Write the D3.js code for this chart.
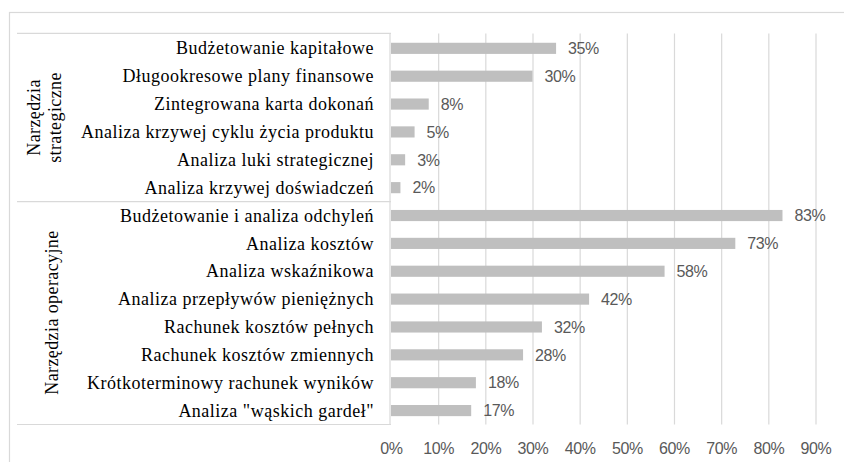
<!DOCTYPE html>
<html>
<head>
<meta charset="utf-8">
<script src="https://cdn.jsdelivr.net/npm/d3@7"></script>
<style>
  html, body { margin: 0; padding: 0; background: #fff; }
  svg { display: block; }
</style>
</head>
<body>
<svg id="chart" width="844" height="462"></svg>
<script>
const categories = [
  "Budżetowanie kapitałowe",
  "Długookresowe plany finansowe",
  "Zintegrowana karta dokonań",
  "Analiza krzywej cyklu życia produktu",
  "Analiza luki strategicznej",
  "Analiza krzywej doświadczeń",
  "Budżetowanie i analiza odchyleń",
  "Analiza kosztów",
  "Analiza wskaźnikowa",
  "Analiza przepływów pieniężnych",
  "Rachunek kosztów pełnych",
  "Rachunek kosztów zmiennych",
  "Krótkoterminowy rachunek wyników",
  "Analiza \"wąskich gardeł\""
];
const values = [0.35, 0.30, 0.08, 0.05, 0.03, 0.02, 0.83, 0.73, 0.58, 0.42, 0.32, 0.28, 0.18, 0.17];
const groups = [
  { lines: ["Narzędzia", "strategiczne"], first: 0, last: 5 },
  { lines: ["Narzędzia operacyjne"], first: 6, last: 13 }
];
const tickValues = [0, 0.1, 0.2, 0.3, 0.4, 0.5, 0.6, 0.7, 0.8, 0.9];

const svg = d3.select("#chart");
const gridColor = "#d9d9d9";
const serif = "'Liberation Serif', 'Times New Roman', serif";
const sans = "'Liberation Sans', Arial, sans-serif";

const x0 = 391, x1 = 815.5;
const yTop = 34.4, yBot = 424.5;
const boxLeft = 17;

const x = d3.scaleLinear().domain([0, 0.9]).range([x0, x1]);
const y = d3.scaleBand().domain(categories).range([yTop, yBot]).paddingInner(0.6).paddingOuter(0.3);

// outer chart border
svg.append("rect")
  .attr("x", 9.5).attr("y", 12.5)
  .attr("width", 900).attr("height", 500)
  .attr("fill", "none").attr("stroke", gridColor).attr("stroke-width", 1.2);

// gridlines
svg.append("g")
  .attr("transform", `translate(0,${yBot})`)
  .call(d3.axisBottom(x).tickValues(tickValues.slice(1)).tickSize(-(yBot - yTop + 1)).tickFormat(""))
  .call(g => g.select(".domain").remove())
  .call(g => g.selectAll("line").attr("stroke", gridColor).attr("stroke-width", 1.2));

// tick labels
svg.append("g")
  .attr("transform", `translate(0,${yBot + 15})`)
  .call(d3.axisBottom(x).tickValues(tickValues).tickSize(0).tickFormat(d3.format(".0%")))
  .call(g => g.select(".domain").remove())
  .call(g => g.selectAll("text")
    .attr("fill", "#595959")
    .style("font-family", sans)
    .style("font-size", "16px")
    .style("letter-spacing", "-0.4px"));

// category box lines
const boxLines = [yTop - 1, y.step() * 6 + yTop, yBot];
svg.append("g").selectAll("line").data(boxLines).join("line")
  .attr("x1", boxLeft).attr("x2", x0)
  .attr("y1", d => d).attr("y2", d => d)
  .attr("stroke", gridColor).attr("stroke-width", 1.2);
// axis line
svg.append("line")
  .attr("x1", x0 - 1).attr("x2", x0 - 1)
  .attr("y1", yTop - 1).attr("y2", yBot)
  .attr("stroke", gridColor).attr("stroke-width", 1.2);

// bars
svg.append("g").selectAll("rect").data(categories).join("rect")
  .attr("x", x(0))
  .attr("y", d => y(d))
  .attr("width", (d, i) => x(values[i]) - x(0))
  .attr("height", y.bandwidth())
  .attr("fill", "#bfbfbf");

// value labels
svg.append("g").selectAll("text").data(categories).join("text")
  .attr("x", (d, i) => x(values[i]) + 12)
  .attr("y", d => y(d) + y.bandwidth() / 2)
  .attr("dy", "0.36em")
  .attr("fill", "#595959")
  .style("font-family", sans)
  .style("font-size", "16px")
  .style("letter-spacing", "-0.4px")
  .text((d, i) => d3.format(".0%")(values[i]));

// category labels
svg.append("g").selectAll("text").data(categories).join("text")
  .attr("x", 374)
  .attr("y", d => y(d) + y.bandwidth() / 2)
  .attr("dy", "0.34em")
  .attr("text-anchor", "end")
  .attr("fill", "#000")
  .style("font-family", serif)
  .style("font-size", "18px")
  .style("letter-spacing", "0.5px")
  .text(d => d);

// group labels
groups.forEach(gr => {
  const top = y(categories[gr.first]) - y.step() * y.paddingInner() / 2 - 1;
  const bot = y(categories[gr.last]) + y.bandwidth() + y.step() * y.paddingInner() / 2;
  const cy = (top + bot) / 2;
  const n = gr.lines.length;
  const cx = n === 1 ? 52 : 44;
  const t = svg.append("text")
    .attr("transform", `translate(${cx},${cy}) rotate(-90)`)
    .attr("text-anchor", "middle")
    .attr("fill", "#000")
    .style("font-family", serif)
    .style("font-size", "18px")
    .style("letter-spacing", "0.4px");
  gr.lines.forEach((ln, i) => {
    t.append("tspan")
      .attr("x", 0)
      .attr("y", (i - (n - 1) / 2) * 21)
      .attr("dy", "0.34em")
      .text(ln);
  });
});
</script>
</body>
</html>
